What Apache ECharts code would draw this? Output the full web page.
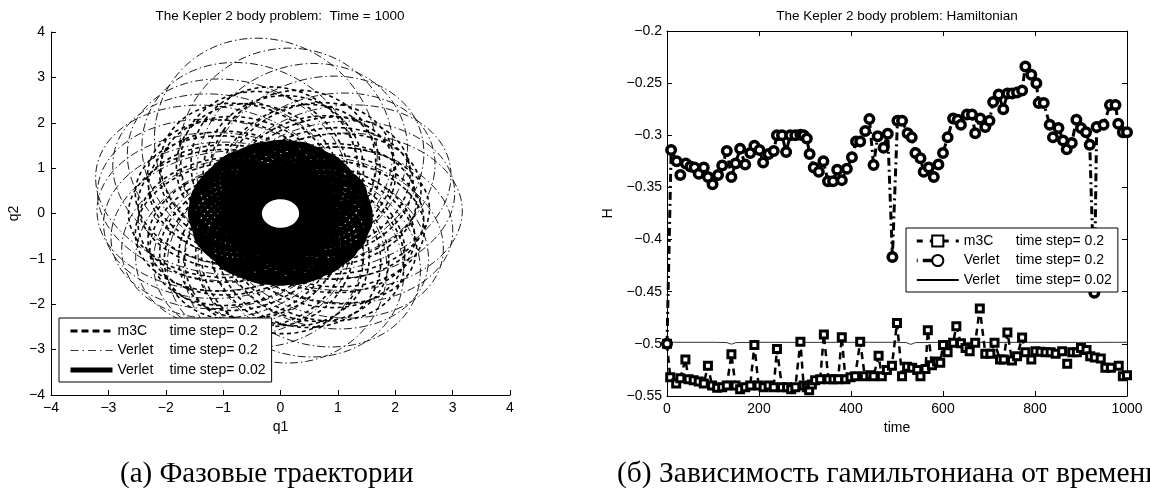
<!DOCTYPE html>
<html>
<head>
<meta charset="utf-8">
<script src="https://cdn.jsdelivr.net/npm/echarts@6/dist/echarts.min.js"></script>
<style>
html, body { margin: 0; padding: 0; background: #fff; }
#main { width: 1150px; height: 488px; }
</style>
</head>
<body>
<div id="main"></div>
<script>
// ---- left panel: orbit loops ----
// apoapsis direction (deg), apoapsis radius, periapsis radius
var fineAngle = [0, 7, 15, 23, 30, 37, 44, 52, 60, 67, 75, 82, 90, 98, 105, 112, 120, 127, 135, 143, 150, 157, 165, 172,
                 180, 187, 195, 203, 210, 217, 225, 232, 240, 247, 255, 262, 270, 278, 285, 292, 300, 307, 315, 323, 330, 337, 345, 352];
var fineApo = [1.57, 1.55, 1.54, 1.56, 1.52, 1.5, 1.53, 1.55, 1.5, 1.56, 1.58, 1.57, 1.58, 1.56, 1.57, 1.55, 1.54, 1.56, 1.55, 1.53,
               1.56, 1.57, 1.58, 1.57, 1.58, 1.56, 1.55, 1.57, 1.55, 1.53, 1.52, 1.55, 1.54, 1.53, 1.55, 1.54, 1.55, 1.54, 1.56, 1.55,
               1.53, 1.55, 1.54, 1.56, 1.55, 1.57, 1.56, 1.58];
var finePeri = 0.36;

var m3cAngle = [96, 87, 78, 68, 59, 50, 41, 31, 22, 13, 4, -5, -14, -24, -33, -42, -51, -61, -70, -79, -88, -97, -107, -116,
                -125, -134, -143, -153, -162, -171, 180, 171, 162, 152, 143, 134, 125, 115, 106];
var m3cApo = [2.8, 2.6, 2.75, 2.5, 2.65, 2.45, 2.6, 2.5, 2.55, 2.4, 2.6, 2.5, 2.55, 2.45, 2.6, 2.5, 2.7, 2.55, 2.6, 2.5,
              2.65, 2.5, 2.55, 2.45, 2.6, 2.5, 2.55, 2.45, 2.6, 2.5, 2.65, 2.5, 2.6, 2.45, 2.6, 2.5, 2.7, 2.55, 2.75];
var m3cPeri = 0.75;

var verletAngle = [100, 86, 72, 58, 44, 30, 16, 2, -14, -30, -44, -58, -72, -86, -105, -120, -135, -148, -160, -172, 178, 165, 155, 142, 128, 114];
var verletApo = [3.9, 3.65, 3.4, 3.3, 3.15, 3.2, 3.1, 3.17, 3.05, 3.05, 3.0, 3.2, 3.25, 3.3, 3.0, 2.9, 2.95, 3.0, 3.05, 3.1,
                 3.2, 3.25, 3.4, 3.3, 3.35, 3.5];
var verletPeri = 0.95;

// ---- right panel: Hamiltonian samples ----
var timeVerlet = [0, 9, 21, 29, 41, 51, 60, 69, 80, 89, 99, 111, 120, 130, 140, 149, 159, 170, 181, 190, 201, 209, 221, 232, 239, 250,
  259, 268, 279, 290, 297, 304, 310, 319, 330, 340, 350, 361, 370, 380, 391, 402, 411, 420, 431, 440, 449, 458, 471, 480, 490,
  501, 511, 523, 532, 540, 551, 558, 569, 580, 590, 600, 610, 622, 632, 639, 652, 663, 670, 681, 692, 701, 709, 721, 731, 740,
  750, 761, 772, 779, 792, 803, 808, 819, 832, 839, 851, 861, 869, 880, 890, 900, 911, 919, 929, 934, 949, 963, 975, 981, 991, 1000];
var hVerlet = [-0.5, -0.314, -0.325, -0.338, -0.327, -0.33, -0.331, -0.337, -0.331, -0.34, -0.347, -0.338, -0.329, -0.315, -0.34,
  -0.327, -0.313, -0.328, -0.317, -0.31, -0.314, -0.326, -0.318, -0.315, -0.3, -0.3, -0.316, -0.3, -0.3, -0.2995, -0.3, -0.303,
  -0.318, -0.331, -0.335, -0.325, -0.344, -0.344, -0.333, -0.343, -0.332, -0.321, -0.306, -0.306, -0.296, -0.2845, -0.3286,
  -0.301, -0.312, -0.2985, -0.4167, -0.286, -0.286, -0.298, -0.302, -0.317, -0.322, -0.335, -0.331, -0.34, -0.328, -0.317,
  -0.302, -0.284, -0.285, -0.29, -0.28, -0.28, -0.298, -0.284, -0.292, -0.286, -0.268, -0.261, -0.275, -0.26, -0.26, -0.259,
  -0.257, -0.234, -0.242, -0.25, -0.269, -0.269, -0.29, -0.302, -0.293, -0.305, -0.3135, -0.3075, -0.285, -0.293, -0.297,
  -0.309, -0.451, -0.292, -0.29, -0.271, -0.271, -0.289, -0.297, -0.297];

var timeM3c = [0, 7, 20, 29, 40, 47, 58, 69, 80, 89, 98, 109, 120, 130, 140, 149, 159, 170, 181, 190, 199, 210, 221, 232, 239, 250,
  261, 270, 279, 290, 297, 304, 309, 315, 322, 333, 341, 351, 362, 372, 380, 388, 399, 409, 420, 430, 442, 449, 460, 467, 478,
  489, 500, 511, 522, 533, 544, 551, 562, 567, 576, 587, 594, 600, 610, 622, 629, 639, 649, 658, 670, 680, 692, 703, 712, 724,
  732, 740, 750, 761, 772, 779, 792, 801, 812, 823, 834, 845, 859, 870, 881, 891, 900, 912, 920, 930, 943, 953, 965, 982, 991, 1000];
var hM3c = [-0.5, -0.532, -0.538, -0.533, -0.515, -0.534, -0.535, -0.536, -0.538, -0.521, -0.54, -0.542, -0.5415, -0.54, -0.51,
  -0.54, -0.5435, -0.5415, -0.54, -0.501, -0.54, -0.5415, -0.54, -0.5415, -0.505, -0.5415, -0.5415, -0.5435, -0.5415, -0.498,
  -0.54, -0.5415, -0.5445, -0.539, -0.535, -0.534, -0.491, -0.534, -0.534, -0.534, -0.4936, -0.534, -0.532, -0.531, -0.498,
  -0.531, -0.53, -0.531, -0.5115, -0.531, -0.525, -0.521, -0.48, -0.531, -0.522, -0.523, -0.525, -0.531, -0.524, -0.487,
  -0.5205, -0.517, -0.518, -0.501, -0.508, -0.499, -0.483, -0.4995, -0.504, -0.507, -0.499, -0.466, -0.5095, -0.5095, -0.499,
  -0.515, -0.515, -0.489, -0.516, -0.512, -0.494, -0.508, -0.515, -0.507, -0.5075, -0.508, -0.508, -0.5095, -0.507, -0.519,
  -0.508, -0.508, -0.504, -0.506, -0.512, -0.513, -0.514, -0.523, -0.523, -0.521, -0.531, -0.53];

var timeFine = [0, 100, 130, 140, 150, 200, 300, 400, 500, 520, 530, 540, 600, 700, 800, 900, 1000];
var hFine = [-0.4985, -0.4985, -0.4988, -0.5003, -0.4988, -0.4985, -0.4986, -0.4985, -0.4985, -0.4988, -0.5005, -0.4988, -0.4985, -0.4986, -0.4985, -0.4986, -0.4985];

// precessing Kepler loop, focus at origin, starting and ending at periapsis
function loops(angles, apo, peri) {
  var pts = [];
  for (var i = 0; i < angles.length; i++) {
    var ra = Array.isArray(apo) ? apo[i] : apo;
    var a = (ra + peri) / 2, e = (ra - peri) / (ra + peri), p = a * (1 - e * e);
    var w = angles[i] * Math.PI / 180;
    for (var k = 0; k <= 180; k++) {
      var th = w + Math.PI + 2 * Math.PI * k / 180;
      var r = p / (1 - e * Math.cos(th - w));
      pts.push([r * Math.cos(th), r * Math.sin(th)]);
    }
  }
  return pts;
}
function pairs(xs, ys) {
  return xs.map(function (x, i) { return [x, ys[i]]; });
}

var legendText = {
  L_m3c: ['m3C', 'time step= 0.2'], L_v02: ['Verlet', 'time step= 0.2'], L_v002: ['Verlet', 'time step= 0.02'],
  R_m3c: ['m3C', 'time step= 0.2'], R_v02: ['Verlet', 'time step= 0.2'], R_v002: ['Verlet', 'time step= 0.02']
};

var FONT = '"Liberation Sans", Arial, sans-serif';
var SERIF = '"Liberation Serif", "Times New Roman", serif';
function minus(v) { return String(+(+v).toFixed(2)).replace('-', '\u2212'); }
function label(margin) {
  return { color: '#000', fontSize: 14, fontFamily: FONT, formatter: minus, margin: margin };
}
function axis(extra) {
  var base = {
    type: 'value',
    axisLine: { show: true, onZero: false, lineStyle: { color: '#000', width: 1 } },
    axisTick: { show: true, inside: true, length: 5, lineStyle: { color: '#000' } },
    axisLabel: label(7),
    splitLine: { show: false },
    nameTextStyle: { color: '#000', fontSize: 14, fontFamily: FONT }
  };
  return Object.assign(base, extra);
}
var noMarker = { opacity: 0 };

var chartDom = document.getElementById('main');
var myChart = echarts.init(chartDom);
var option = {
  animation: false,
  backgroundColor: '#fff',
  grid: [
    { left: 51, top: 32, width: 459, height: 363 },
    { left: 667, top: 31, width: 460, height: 365 }
  ],
  xAxis: [
    axis({ gridIndex: 0, min: -4, max: 4, interval: 1, name: 'q1', nameLocation: 'middle', nameGap: 25, axisLabel: label(6) }),
    axis({ gridIndex: 1, min: 0, max: 1000, interval: 200, name: 'time', nameLocation: 'middle', nameGap: 25, axisLabel: label(6) }),
    axis({ gridIndex: 1, min: 0, max: 1000, interval: 200, position: 'top', axisLabel: { show: false } })
  ],
  yAxis: [
    axis({ gridIndex: 0, min: -4, max: 4, interval: 1, name: 'q2', nameLocation: 'middle', nameGap: 30, axisLabel: label(6) }),
    axis({ gridIndex: 1, min: -0.55, max: -0.2, interval: 0.05, name: 'H', nameLocation: 'middle', nameGap: 52, axisLabel: label(5) }),
    axis({ gridIndex: 1, min: -0.55, max: -0.2, interval: 0.05, position: 'right', axisLabel: { show: false } })
  ],
  legend: [
    { left: 59, top: 318, orient: 'vertical',
      data: [
        { name: 'L_m3c', itemStyle: noMarker, lineStyle: { width: 3, type: [7, 4] } },
        { name: 'L_v02', itemStyle: noMarker, lineStyle: { width: 0.8, type: [8, 4, 1.5, 4] } },
        { name: 'L_v002', itemStyle: noMarker, lineStyle: { width: 5 } }
      ] },
    { left: 906, top: 228, orient: 'vertical',
      data: [
        { name: 'R_m3c', lineStyle: { width: 3, type: [6, 7] } },
        { name: 'R_v02', lineStyle: { width: 3.5, type: [1, 5, 12, 100] } },
        { name: 'R_v002', itemStyle: noMarker }
      ] }
  ].map(function (l) {
    return Object.assign(l, {
      padding: [6, 6, 5, 9], itemGap: 5.5, itemWidth: 42, itemHeight: 14,
      borderColor: '#000', borderWidth: 1, borderRadius: 0, backgroundColor: '#fff',
      selectedMode: false,
      formatter: function (n) { return '{m|' + legendText[n][0] + '}{s|' + legendText[n][1] + '}'; },
      textStyle: { color: '#000', fontSize: 14, fontFamily: FONT,
        rich: { m: { width: 52, fontSize: 14, fontFamily: FONT }, s: { fontSize: 14, fontFamily: FONT } } }
    });
  }),
  graphic: [
    { type: 'text', x: 280, y: 16, style: { text: 'The Kepler 2 body problem:  Time = 1000', align: 'center', verticalAlign: 'middle', font: '13.5px ' + FONT, fill: '#000' } },
    { type: 'text', x: 897, y: 16, style: { text: 'The Kepler 2 body problem: Hamiltonian', align: 'center', verticalAlign: 'middle', font: '13.5px ' + FONT, fill: '#000' } },
    { type: 'text', x: 120, y: 474, style: { text: '(a) Фазовые траектории', align: 'left', verticalAlign: 'middle', font: '29px ' + SERIF, fill: '#000' } },
    { type: 'text', x: 617, y: 474, style: { text: '(б) Зависимость гамильтониана от времени', align: 'left', verticalAlign: 'middle', font: '29.5px ' + SERIF, fill: '#000' } }
  ],
  series: [
    { name: 'L_m3c', type: 'line', xAxisIndex: 0, yAxisIndex: 0, symbol: 'none', silent: true,
      data: loops(m3cAngle, m3cApo, m3cPeri),
      lineStyle: { color: '#000', width: 1.6, type: [4, 3.5] } },
    { name: 'L_v02', type: 'line', xAxisIndex: 0, yAxisIndex: 0, symbol: 'none', silent: true,
      data: loops(verletAngle, verletApo, verletPeri),
      lineStyle: { color: '#000', width: 0.9, type: [8, 3, 1.5, 3] } },
    { name: 'L_v002', type: 'line', xAxisIndex: 0, yAxisIndex: 0, symbol: 'none', silent: true,
      data: loops(fineAngle, fineApo, finePeri),
      lineStyle: { color: '#000', width: 4 } },

    { name: 'R_v002', type: 'line', xAxisIndex: 1, yAxisIndex: 1, symbol: 'none', silent: true,
      data: pairs(timeFine, hFine),
      lineStyle: { color: '#000', width: 0.8 } },
    { name: 'R_m3c', type: 'line', xAxisIndex: 1, yAxisIndex: 1, symbol: 'rect', symbolSize: 7, showAllSymbol: true, silent: true,
      data: pairs(timeM3c, hM3c),
      itemStyle: { color: '#fff', borderColor: '#000', borderWidth: 3 },
      lineStyle: { color: '#000', width: 2.5, type: [7, 5] } },
    { name: 'R_v02', type: 'line', xAxisIndex: 1, yAxisIndex: 1, symbol: 'circle', symbolSize: 8.5, showAllSymbol: true, silent: true,
      data: pairs(timeVerlet, hVerlet),
      itemStyle: { color: '#fff', borderColor: '#000', borderWidth: 3.5 },
      lineStyle: { color: '#000', width: 3, type: [8, 4, 2, 4] } }
  ]
};
option && myChart.setOption(option);
</script>
</body>
</html>
